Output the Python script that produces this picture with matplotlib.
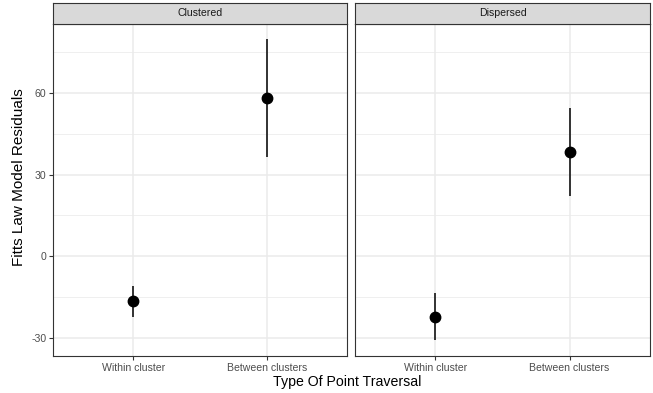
import matplotlib
matplotlib.use("Agg")
import matplotlib.pyplot as plt

plt.rcParams['font.family'] = ['Liberation Sans', 'DejaVu Sans']

panels = ["Clustered", "Dispersed"]
categories = ["Within cluster", "Between clusters"]
means = {"Clustered": [-16.5, 58.2], "Dispersed": [-22.4, 38.2]}
lower = {"Clustered": [-22.4, 36.4], "Dispersed": [-30.8, 22.0]}
upper = {"Clustered": [-11.0, 79.8], "Dispersed": [-13.6, 54.3]}
yticks = [-30, 0, 30, 60]
minor_ticks = [-15, 15, 45, 75]

W, H = 653, 393
fig = plt.figure(figsize=(W / 100, H / 100), dpi=100)

panel_x = [(53, 347), (355, 650)]
ptop, pbot = 24, 356
strip_top = 3

ylim = (-36.6, 85.3)
for i, name in enumerate(panels):
    x0, x1 = panel_x[i]
    ax = fig.add_axes([x0 / W, 1 - pbot / H, (x1 - x0) / W, (pbot - ptop) / H])
    ax.set_xlim(-0.6, 1.6)
    ax.set_ylim(*ylim)
    ax.set_facecolor('white')
    for v in minor_ticks:
        ax.axhline(v, color='#EBEBEB', lw=0.55, zorder=0)
    for v in yticks:
        ax.axhline(v, color='#EBEBEB', lw=1.1, zorder=0)
    for xv in range(len(categories)):
        ax.axvline(xv, color='#EBEBEB', lw=1.1, zorder=0)
    xs = list(range(len(categories)))
    m = means[name]
    lo = [m[j] - lower[name][j] for j in xs]
    hi = [upper[name][j] - m[j] for j in xs]
    ax.errorbar(xs, m, yerr=[lo, hi], fmt='o', color='black', ms=7.5,
                elinewidth=1.1, capsize=0, zorder=3)
    ax.set_xticks(xs)
    ax.set_xticklabels(categories)
    ax.set_yticks(yticks)
    if i == 0:
        ax.set_yticklabels([str(v) for v in yticks])
    else:
        ax.tick_params(axis='y', left=False, labelleft=False)
    ax.tick_params(axis='both', colors='#333333', labelcolor='#4D4D4D',
                   labelsize=7.6, length=2.7, width=0.8, pad=2)
    for s in ax.spines.values():
        s.set_color('#333333')
        s.set_linewidth(0.8)
    sax = fig.add_axes([x0 / W, 1 - ptop / H, (x1 - x0) / W, (ptop - strip_top) / H])
    sax.set_xticks([]); sax.set_yticks([])
    sax.set_facecolor('#D9D9D9')
    for s in sax.spines.values():
        s.set_color('#333333')
        s.set_linewidth(0.8)
    sax.text(0.5, 0.5, name, ha='center', va='center', fontsize=7.6,
             color='#1A1A1A', transform=sax.transAxes)

fig.text(347 / W, 1 - 382 / H, "Type Of Point Traversal",
         ha='center', va='center', fontsize=10.2, color='black')
fig.text(19 / W, 1 - 177 / H, "Fitts Law Model Residuals", rotation=90,
         ha='center', va='center', fontsize=11, color='black')

fig.savefig("out.png", dpi=100)
